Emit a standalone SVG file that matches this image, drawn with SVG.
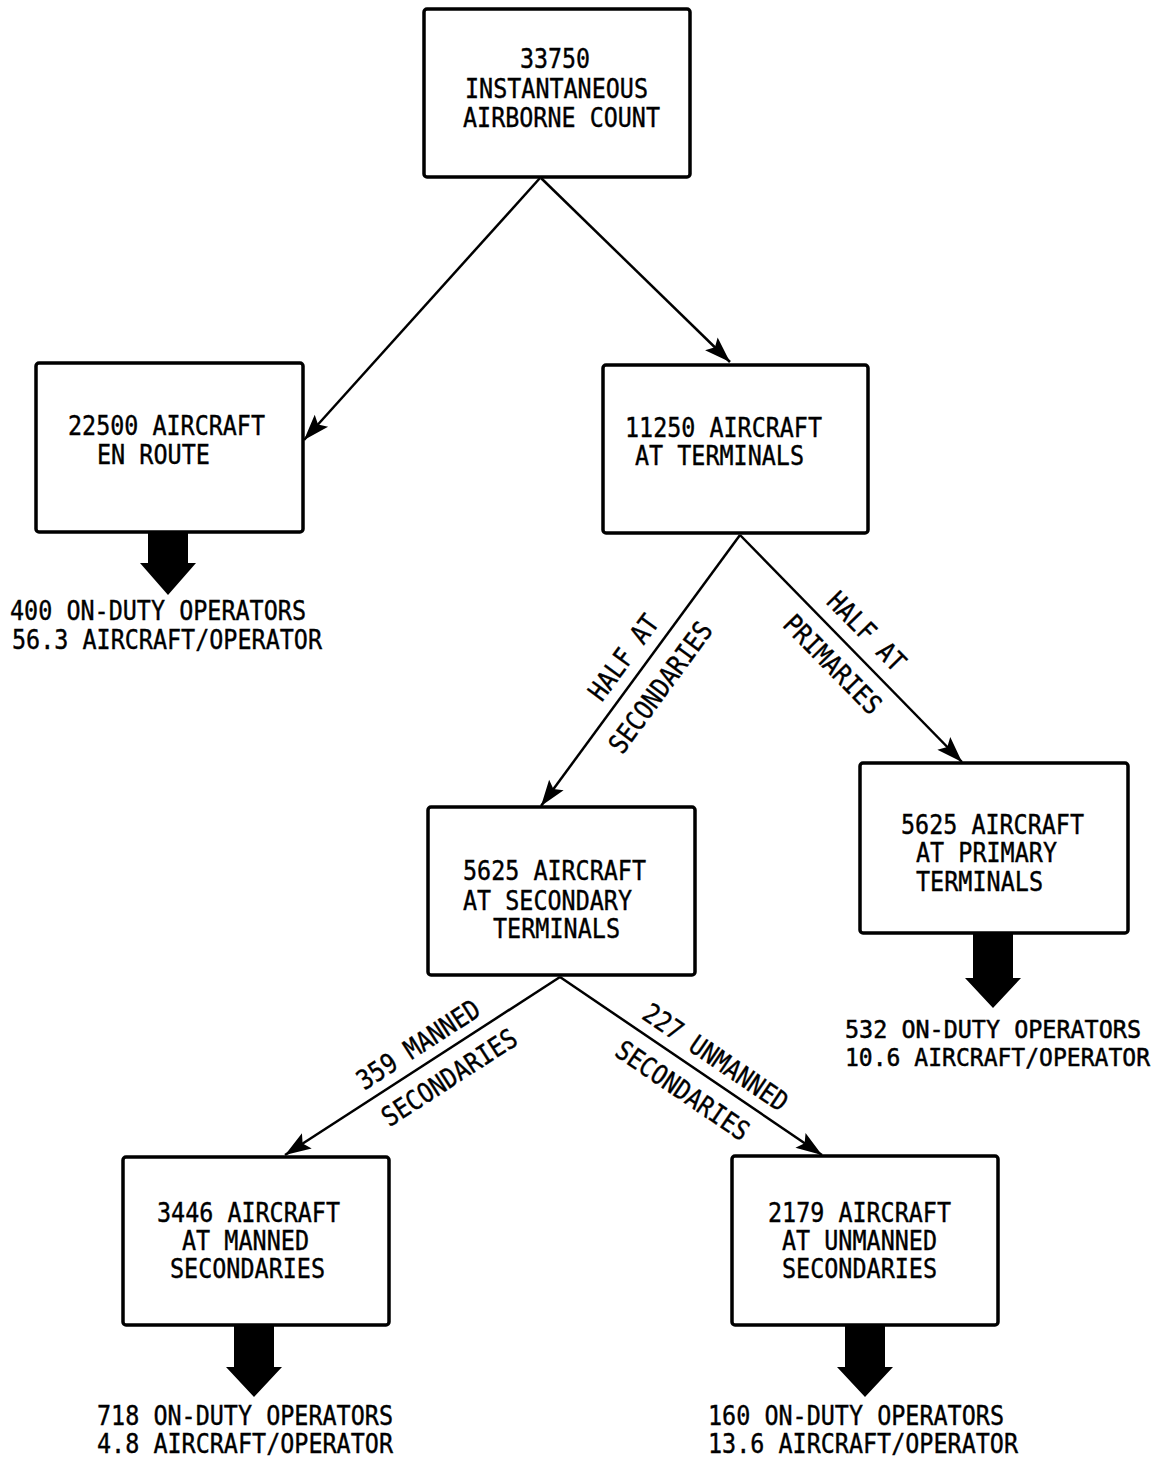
<svg xmlns="http://www.w3.org/2000/svg" width="1170" height="1462" viewBox="0 0 1170 1462">
<style>
.box{fill:#fff;stroke:#000;stroke-width:3.5}
.t{font-family:"DejaVu Sans Mono","Liberation Mono",monospace;font-size:27px;fill:#000;stroke:#000;stroke-width:0.4}
.s{font-size:24px;stroke-width:0.5}
.m{text-anchor:middle}
.c{fill:none;stroke:#000;stroke-width:2.5}
.blk{fill:#000}
</style>
<defs>
<marker id="ah" markerUnits="userSpaceOnUse" markerWidth="30" markerHeight="24" viewBox="0 0 30 24" refX="28" refY="12" orient="auto">
<path d="M28,12 L2,3 L7,12 L2,21 Z" fill="#000"/>
</marker>
</defs>
<rect width="1170" height="1462" fill="#fff"/>
<g id="connectors">
<line class="c" x1="540" y1="178" x2="304" y2="440" marker-end="url(#ah)"/>
<line class="c" x1="541" y1="178" x2="730" y2="362" marker-end="url(#ah)"/>
<line class="c" x1="740" y1="535" x2="541" y2="806" marker-end="url(#ah)"/>
<line class="c" x1="740" y1="535" x2="962" y2="762" marker-end="url(#ah)"/>
<line class="c" x1="560" y1="977" x2="285" y2="1155" marker-end="url(#ah)"/>
<line class="c" x1="560" y1="977" x2="822" y2="1155" marker-end="url(#ah)"/>
<g transform="translate(623,657) rotate(-53.7)"><text class="t m" y="10" textLength="99" lengthAdjust="spacingAndGlyphs">HALF AT</text></g>
<g transform="translate(660,687) rotate(-53.7)"><text class="t m" y="10" textLength="155" lengthAdjust="spacingAndGlyphs">SECONDARIES</text></g>
<g transform="translate(867,631) rotate(45.6)"><text class="t m" y="10" textLength="99" lengthAdjust="spacingAndGlyphs">HALF AT</text></g>
<g transform="translate(833,664) rotate(45.6)"><text class="t m" y="10" textLength="127" lengthAdjust="spacingAndGlyphs">PRIMARIES</text></g>
<g transform="translate(418,1044) rotate(-32.9)"><text class="t m" y="10" textLength="141" lengthAdjust="spacingAndGlyphs">359 MANNED</text></g>
<g transform="translate(449,1077) rotate(-32.9)"><text class="t m" y="10" textLength="155" lengthAdjust="spacingAndGlyphs">SECONDARIES</text></g>
<g transform="translate(716,1057) rotate(34.2)"><text class="t m" y="10" textLength="169" lengthAdjust="spacingAndGlyphs">227 UNMANNED</text></g>
<g transform="translate(683,1090) rotate(34.2)"><text class="t m" y="10" textLength="155" lengthAdjust="spacingAndGlyphs">SECONDARIES</text></g>
</g>
<g id="n1">
<rect class="box" x="424" y="9" width="266" height="168" rx="3"/>
<text class="t" x="520" y="68" textLength="70" lengthAdjust="spacingAndGlyphs">33750</text>
<text class="t" x="465" y="98" textLength="183" lengthAdjust="spacingAndGlyphs">INSTANTANEOUS</text>
<text class="t" x="463" y="127" textLength="197" lengthAdjust="spacingAndGlyphs">AIRBORNE COUNT</text>
</g>
<g id="n2">
<rect class="box" x="36" y="363" width="267" height="169" rx="3"/>
<text class="t" x="68" y="435" textLength="197" lengthAdjust="spacingAndGlyphs">22500 AIRCRAFT</text>
<text class="t" x="97" y="464" textLength="113" lengthAdjust="spacingAndGlyphs">EN ROUTE</text>
<path class="blk" d="M148,532 H188 V563 H196 L168,595 L140,563 H148 Z"/>
<text class="t" x="10" y="620" textLength="296" lengthAdjust="spacingAndGlyphs">400 ON-DUTY OPERATORS</text>
<text class="t" x="12" y="649" textLength="310" lengthAdjust="spacingAndGlyphs">56.3 AIRCRAFT/OPERATOR</text>
</g>
<g id="n3">
<rect class="box" x="603" y="365" width="265" height="168" rx="3"/>
<text class="t" x="625" y="437" textLength="197" lengthAdjust="spacingAndGlyphs">11250 AIRCRAFT</text>
<text class="t" x="635" y="465" textLength="169" lengthAdjust="spacingAndGlyphs">AT TERMINALS</text>
</g>
<g id="n4">
<rect class="box" x="428" y="807" width="267" height="168" rx="3"/>
<text class="t" x="463" y="880" textLength="183" lengthAdjust="spacingAndGlyphs">5625 AIRCRAFT</text>
<text class="t" x="463" y="910" textLength="169" lengthAdjust="spacingAndGlyphs">AT SECONDARY</text>
<text class="t" x="493" y="938" textLength="127" lengthAdjust="spacingAndGlyphs">TERMINALS</text>
</g>
<g id="n5">
<rect class="box" x="860" y="763" width="268" height="170" rx="3"/>
<text class="t" x="901" y="834" textLength="183" lengthAdjust="spacingAndGlyphs">5625 AIRCRAFT</text>
<text class="t" x="916" y="862" textLength="141" lengthAdjust="spacingAndGlyphs">AT PRIMARY</text>
<text class="t" x="916" y="891" textLength="127" lengthAdjust="spacingAndGlyphs">TERMINALS</text>
<path class="blk" d="M973,933 H1013 V978 H1021 L993,1008 L965,978 H973 Z"/>
<text class="t s" x="845" y="1038" textLength="296" lengthAdjust="spacingAndGlyphs">532 ON-DUTY OPERATORS</text>
<text class="t s" x="845" y="1066" textLength="305" lengthAdjust="spacingAndGlyphs">10.6 AIRCRAFT/OPERATOR</text>
</g>
<g id="n6">
<rect class="box" x="123" y="1157" width="266" height="168" rx="3"/>
<text class="t" x="157" y="1222" textLength="183" lengthAdjust="spacingAndGlyphs">3446 AIRCRAFT</text>
<text class="t" x="182" y="1250" textLength="127" lengthAdjust="spacingAndGlyphs">AT MANNED</text>
<text class="t" x="170" y="1278" textLength="155" lengthAdjust="spacingAndGlyphs">SECONDARIES</text>
<path class="blk" d="M234,1325 H274 V1367 H282 L254,1397 L226,1367 H234 Z"/>
<text class="t" x="97" y="1425" textLength="296" lengthAdjust="spacingAndGlyphs">718 ON-DUTY OPERATORS</text>
<text class="t" x="97" y="1453" textLength="296" lengthAdjust="spacingAndGlyphs">4.8 AIRCRAFT/OPERATOR</text>
</g>
<g id="n7">
<rect class="box" x="732" y="1156" width="266" height="169" rx="3"/>
<text class="t" x="768" y="1222" textLength="183" lengthAdjust="spacingAndGlyphs">2179 AIRCRAFT</text>
<text class="t" x="782" y="1250" textLength="155" lengthAdjust="spacingAndGlyphs">AT UNMANNED</text>
<text class="t" x="782" y="1278" textLength="155" lengthAdjust="spacingAndGlyphs">SECONDARIES</text>
<path class="blk" d="M845,1325 H885 V1367 H893 L865,1397 L837,1367 H845 Z"/>
<text class="t" x="708" y="1425" textLength="296" lengthAdjust="spacingAndGlyphs">160 ON-DUTY OPERATORS</text>
<text class="t" x="708" y="1453" textLength="310" lengthAdjust="spacingAndGlyphs">13.6 AIRCRAFT/OPERATOR</text>
</g>
</svg>
